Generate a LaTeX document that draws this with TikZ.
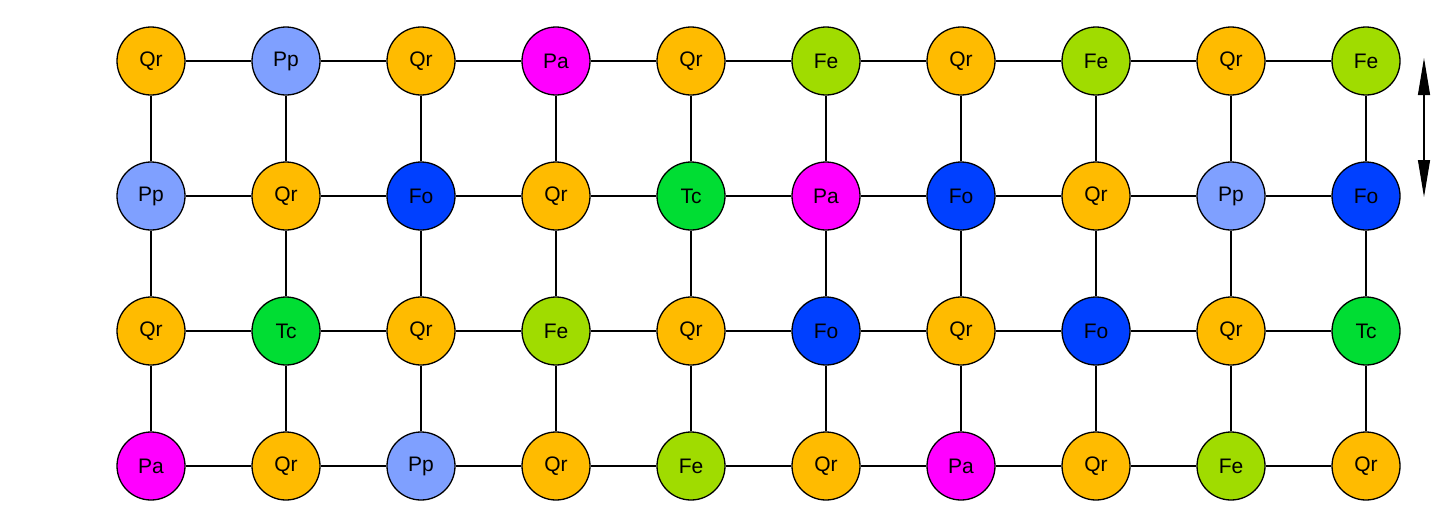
\documentclass[tikz,border=0pt]{standalone}
\usepackage{fontspec}
\setmainfont{Liberation Sans}
\usetikzlibrary{arrows.meta}
\definecolor{cQr}{RGB}{255,187,0}
\definecolor{cPp}{RGB}{127,160,255}
\definecolor{cPa}{RGB}{255,0,255}
\definecolor{cFe}{RGB}{160,220,0}
\definecolor{cTc}{RGB}{0,221,51}
\definecolor{cFo}{RGB}{0,64,255}
\begin{document}
\begin{tikzpicture}[x=1pt,y=-1pt,
  site/.style={circle,draw=black,line width=1.3pt,minimum size=68pt,inner sep=0pt,font=\fontsize{21}{22}\selectfont},
  bond/.style={line width=1.3pt,black}]
\useasboundingbox (0,0) rectangle (1440,509);
\foreach \r/\lst in {0/{Qr,Pp,Qr,Pa,Qr,Fe,Qr,Fe,Qr,Fe},
                     1/{Pp,Qr,Fo,Qr,Tc,Pa,Fo,Qr,Pp,Fo},
                     2/{Qr,Tc,Qr,Fe,Qr,Fo,Qr,Fo,Qr,Tc},
                     3/{Pa,Qr,Pp,Qr,Fe,Qr,Pa,Qr,Fe,Qr}}{
  \foreach \s [count=\c from 0] in \lst {
    \node[site,fill=c\s] (n\r-\c) at ({151+135*\c},{61+135*\r}) {\s};
  }
}
\foreach \r in {0,...,3}{
  \foreach \c [evaluate=\c as \d using int(\c+1)] in {0,...,8}{
    \draw[bond] (n\r-\c) -- (n\r-\d);
  }
}
\foreach \c in {0,...,9}{
  \foreach \r [evaluate=\r as \q using int(\r+1)] in {0,...,2}{
    \draw[bond] (n\r-\c) -- (n\q-\c);
  }
}
\coordinate (a1) at (1424,58);
\coordinate (a2) at (1424,197);
\draw[line width=1.3pt,{Triangle[length=37pt,width=12pt]}-{Triangle[length=37pt,width=12pt]}] (a1) -- (a2);
\end{tikzpicture}
\end{document}
